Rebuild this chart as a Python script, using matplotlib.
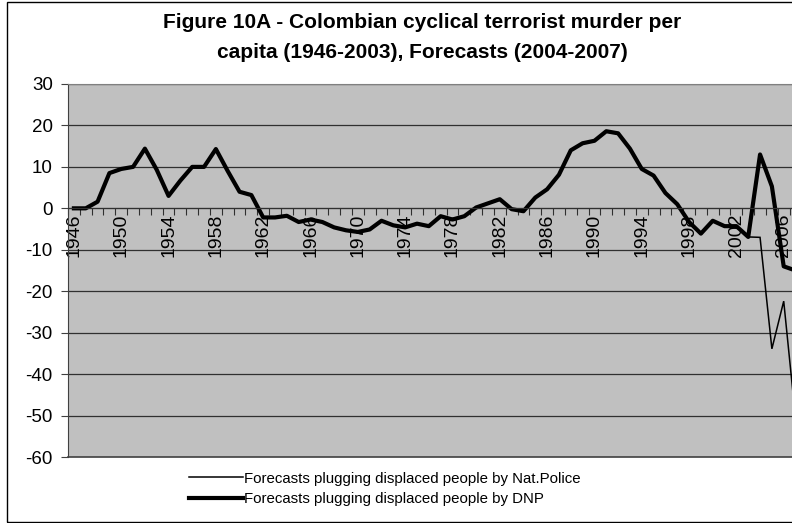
import matplotlib.pyplot as plt
import matplotlib.patches as mpatches
import numpy as np

plt.rcParams['font.family'] = ['Liberation Sans', 'DejaVu Sans']

# cyclical terrorist murder per capita, 1946-2003
hist_years = list(range(1946, 2004))
hist_values = [0, 0, 1.6, 8.5, 9.5, 10, 14.4, 9.3, 3.0, 6.7,
               10, 10, 14.3, 9, 4.0, 3.2, -2.2, -2.2, -1.8, -3.3,
               -2.7, -3.3, -4.6, -5.3, -5.7, -5.1, -3.0, -4.1, -4.6, -3.7,
               -4.3, -1.9, -2.7, -1.9, 0.2, 1.2, 2.2, -0.2, -0.7, 2.6,
               4.6, 8.1, 14.0, 15.7, 16.3, 18.6, 18.1, 14.4, 9.5, 7.9,
               3.7, 1.0, -3.3, -6.1, -3.0, -4.3, -4.3, -6.9]

# forecasts 2004-2007
fc_years = [2004, 2005, 2006, 2007]
fc_police = [-7.0, -33.9, -22.4, -50.7]
fc_dnp = [13.0, 5.3, -14.0, -15.0]

label_years = list(range(1946, 2008, 4))
y_ticks = list(range(-60, 31, 10))

years = hist_years + fc_years
police = hist_values + fc_police
dnp = hist_values + fc_dnp

W, H = 792, 523
fig = plt.figure(figsize=(W / 100, H / 100), dpi=100)

# outer chart border
fig.patches.append(mpatches.Rectangle((7 / W, 1 / H), 1.2, (H - 3) / H,
                                      transform=fig.transFigure, fill=False,
                                      edgecolor='black', linewidth=1))

left, right = 68, 68 + 62 * 11.83
top, bottom = 84, 457
ax = fig.add_axes([left / W, 1 - bottom / H, (right - left) / W, (bottom - top) / H])
ax.set_facecolor('#c0c0c0')

ax.plot(years, police, color='black', linewidth=1.1, solid_joinstyle='miter')
ax.plot(years, dnp, color='black', linewidth=3.0, solid_joinstyle='round')

ax.set_xlim(1945.5, 2007.5)
ax.set_ylim(-60, 30)

for v in y_ticks:
    if v > -60:
        ax.axhline(v, color='#303030', linewidth=0.9, zorder=0.5)

for side in ['top', 'right', 'left']:
    ax.spines[side].set_color('#808080')
ax.spines['left'].set_color('#404040')
ax.spines['bottom'].set_position(('data', 0))
ax.spines['bottom'].set_color('#303030')

# bottom edge of the plot area
ax.plot([0, 1], [0, 0], transform=ax.transAxes, color='#404040',
        linewidth=1.2, clip_on=False)

ax.set_yticks(y_ticks)
ax.set_yticklabels([str(v) for v in y_ticks])
ax.tick_params(axis='y', length=5, width=0.8, pad=6, labelsize=13.5,
               color='#404040')

# category boundary ticks and labels every fourth year
ax.set_xticks(np.arange(1945.5, 2008, 1))
ax.set_xticklabels([])
ax.tick_params(axis='x', which='major', length=5, width=0.8, direction='out',
               color='#303030')
ax.set_xticks(label_years, minor=True)
ax.set_xticklabels([str(y) for y in label_years], minor=True, rotation=90,
                   fontsize=14)
ax.tick_params(axis='x', which='minor', length=0, pad=4)

fig.text(422 / W, 1 - 22 / H,
         'Figure 10A - Colombian cyclical terrorist murder per',
         ha='center', va='center', fontsize=15, fontweight='bold')
fig.text(422 / W, 1 - 52 / H,
         'capita (1946-2003), Forecasts (2004-2007)',
         ha='center', va='center', fontsize=15, fontweight='bold')

h1, = ax.plot([], [], color='black', linewidth=1.1)
h2, = ax.plot([], [], color='black', linewidth=3.0)
fig.legend([h1, h2],
           ['Forecasts plugging displaced people by Nat.Police',
            'Forecasts plugging displaced people by DNP'],
           loc='center left', bbox_to_anchor=(181 / W, 1 - 489 / H),
           frameon=False, fontsize=10.8, handlelength=3.6, handletextpad=0.1,
           labelspacing=0.45, borderpad=0)

fig.savefig('out.png', dpi=100)
